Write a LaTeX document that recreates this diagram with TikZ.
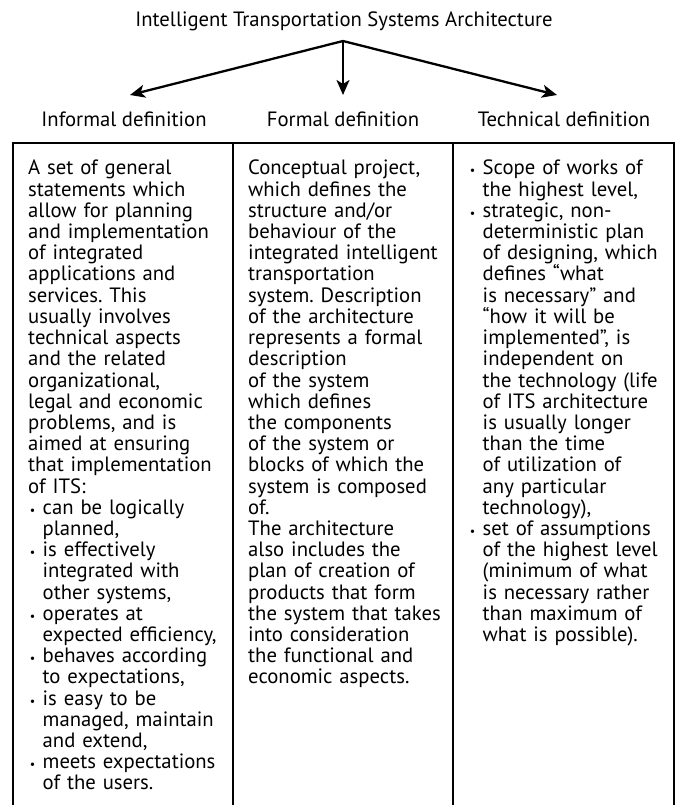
\documentclass[tikz,border=0pt]{standalone}
\usepackage{fontspec}
\setmainfont{PT Sans}
\usetikzlibrary{arrows.meta}
\frenchspacing

% bullet and hanging indent for the list lines
\newcommand\itm{\makebox[9pt]{\fontsize{12}{12}\selectfont\textbullet}\hspace{5.5pt}}
\newcommand\ind{\hspace{14.5pt}}

\tikzset{
  head/.style={font=\fontsize{20.7}{21}\selectfont, anchor=base, inner sep=0pt},
  col/.style={font=\fontsize{20.7}{21.2}\selectfont, anchor=base west,
    text width=215pt, align=left, inner sep=0pt},
  arr/.style={line width=2.3pt, -{Stealth[length=15pt,width=13pt,inset=4pt]}},
  rule/.style={line width=1.2pt}
}

\begin{document}
\begin{tikzpicture}[x=1pt,y=-1pt]
\useasboundingbox (0,0) rectangle (677,805);

% title and the three kinds of definition
\node[head] (itsa) at (344,27) {Intelligent Transportation Systems Architecture};
\node[head] (informal) at (124,127) {Informal definition};
\node[head] (formal) at (343,127) {Formal definition};
\node[head] (technical) at (564,127) {Technical definition};

\coordinate (fork) at (343,41);
\coordinate (tipl) at (130,95);
\coordinate (tipm) at (343,95);
\coordinate (tipr) at (557,95);
\draw[arr] (fork) -- (tipl);
\draw[arr] (fork) -- (tipm);
\draw[arr] (fork) -- (tipr);

% table frame, open at the bottom
\draw[rule] (13,805) -- (13,143) -- (674,143) -- (674,805)
  (233,143) -- (233,805)
  (453,143) -- (453,805);

\node[col] (infotext) at (28,175) {%
A set of general\\
statements which\\
allow for planning\\
and implementation\\
of integrated\\
applications and\\
services. This\\
usually involves\\
technical aspects\\
and the related\\
organizational,\\
legal and economic\\
problems, and is\\
aimed at ensuring\\
that implementation\\
of ITS:\\
\itm can be logically\\
\ind planned,\\
\itm is effectively\\
\ind integrated with\\
\ind other systems,\\
\itm operates at\\
\ind expected efficiency,\\
\itm behaves according\\
\ind to expectations,\\
\itm is easy to be\\
\ind managed, maintain\\
\ind and extend,\\
\itm meets expectations\\
\ind of the users.};

\node[col] (formtext) at (248,175) {%
Conceptual project,\\
which defines the\\
structure and/or\\
behaviour of the\\
integrated intelligent\\
transportation\\
system. Description\\
of the architecture\\
represents a formal\\
description\\
of the system\\
which defines\\
the components\\
of the system or\\
blocks of which the\\
system is composed\\
of.\\
The architecture\\
also includes the\\
plan of creation of\\
products that form\\
the system that takes\\
into consideration\\
the functional and\\
economic aspects.};

\node[col] (techtext) at (468,175) {%
\itm Scope of works of\\
\ind the highest level,\\
\itm strategic, non-\\
\ind deterministic plan\\
\ind of designing, which\\
\ind defines “what\\
\ind is necessary” and\\
\ind “how it will be\\
\ind implemented”, is\\
\ind independent on\\
\ind the technology (life\\
\ind of ITS architecture\\
\ind is usually longer\\
\ind than the time\\
\ind of utilization of\\
\ind any particular\\
\ind technology),\\
\itm set of assumptions\\
\ind of the highest level\\
\ind (minimum of what\\
\ind is necessary rather\\
\ind than maximum of\\
\ind what is possible).};
\end{tikzpicture}
\end{document}
